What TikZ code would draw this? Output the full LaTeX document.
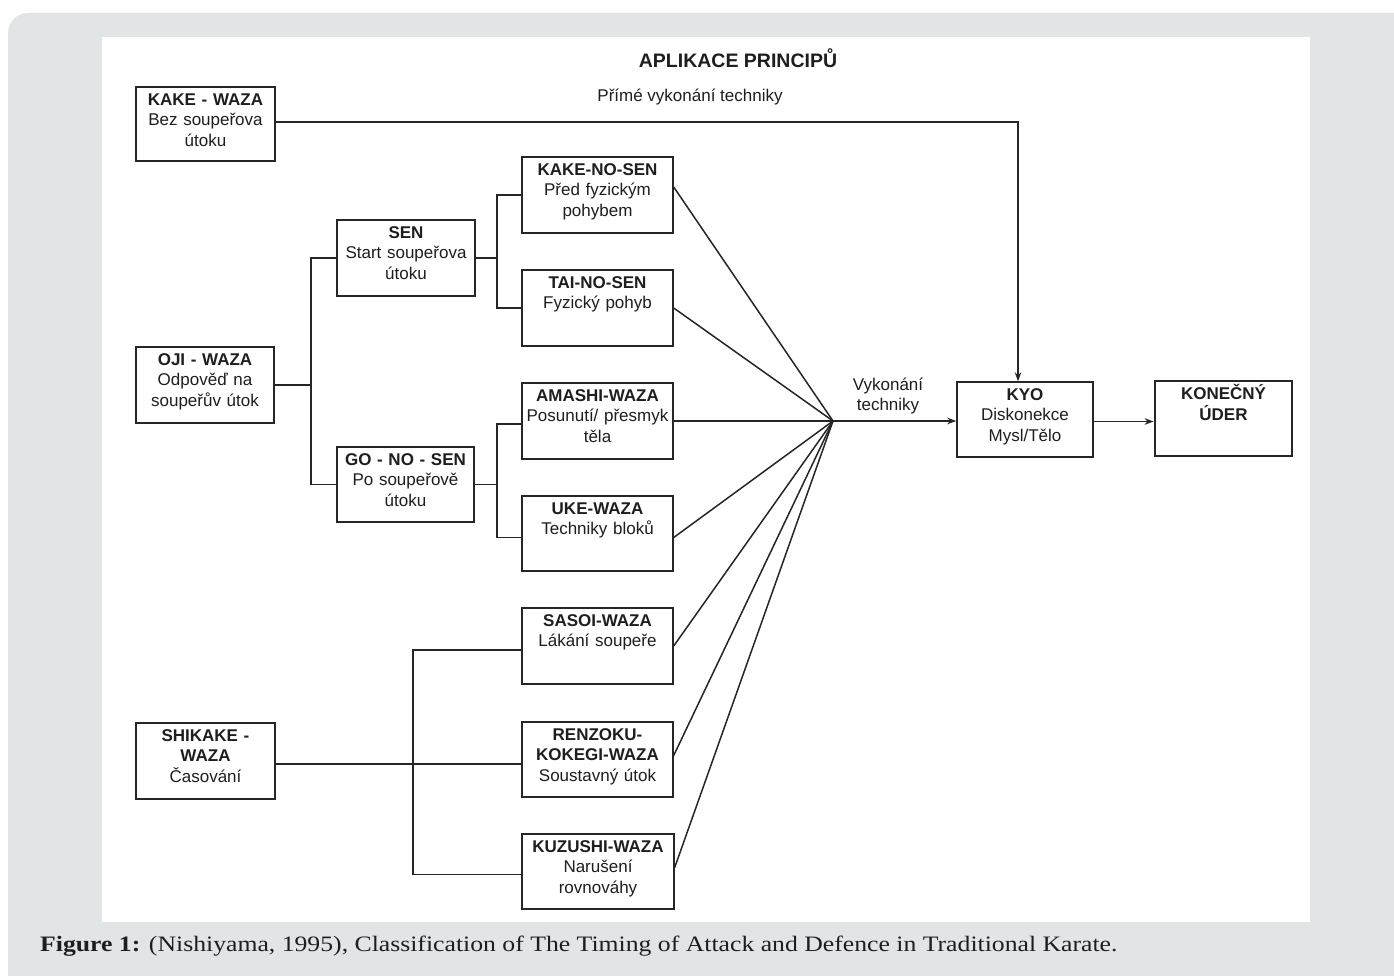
\documentclass[tikz,border=0pt]{standalone}
\usepackage{fontspec}
\usepackage{graphicx}
\setmainfont{Liberation Serif}
\newfontfamily\diafont{Liberation Sans}
\usetikzlibrary{arrows.meta}
\definecolor{bggrey}{HTML}{E1E5E5}
\definecolor{ink}{HTML}{1E1E1E}
\definecolor{wire}{HTML}{262626}
\tikzset{
  boxshape/.style={draw=wire, line width=1.4pt, rectangle, inner sep=0pt},
  txt/.style={inner sep=0pt, align=center, text width=150pt, text=ink,
    font=\diafont\fontsize{17}{20.5}\selectfont, anchor=base},
  wireline/.style={draw=wire, line width=1.5pt},
  arrowline/.style={wireline, -{Stealth[length=9pt,width=6.5pt]}},
}
\newcommand{\mybox}[6]{%
  \node[boxshape, minimum width=#4pt, minimum height=#5pt] (#1) at (#2,#3) {};
  \node[txt] (#1t) at ([yshift=-19pt]#1.north) {#6};
}
\begin{document}
\begin{tikzpicture}[x=1pt,y=-1pt]
\useasboundingbox (0,0) rectangle (1394,976);
\clip (0,0) rectangle (1394,976);
\fill[white] (0,0) rectangle (1394,976);
\fill[bggrey, rounded corners=20pt] (8,13) rectangle (1440,1020);
\fill[white] (102,37) rectangle (1310,922);

% title
\node[inner sep=0pt, text=ink, font=\diafont\bfseries\fontsize{19.5}{23}\selectfont] (title) at (738,58) {APLIKACE PRINCIPŮ};
\node[inner sep=0pt, text=ink, font=\diafont\fontsize{17}{20.5}\selectfont] (prime) at (690,97) {Přímé vykonání techniky};

% boxes
\mybox{kake}{205.5}{124}{139}{74}{\textbf{KAKE - WAZA}\\Bez soupeřova\\útoku}
\mybox{oji}{205}{385}{138}{76}{\textbf{OJI - WAZA}\\Odpověď na\\soupeřův útok}
\mybox{shikake}{205.5}{761}{139}{76}{\textbf{SHIKAKE -}\\\textbf{WAZA}\\Časování}
\mybox{sen}{406}{258}{138}{76}{\textbf{SEN}\\Start soupeřova\\útoku}
\mybox{gons}{405.5}{484.5}{137}{75}{\textbf{GO - NO - SEN}\\Po soupeřově\\útoku}
\mybox{kns}{597.5}{195}{151}{76}{\textbf{KAKE-NO-SEN}\\Před fyzickým\\pohybem}
\mybox{tns}{597.5}{308}{151}{76}{\textbf{TAI-NO-SEN}\\Fyzický pohyb}
\mybox{ama}{597.5}{421}{151}{76}{\textbf{AMASHI-WAZA}\\Posunutí/ přesmyk\\těla}
\mybox{uke}{597.5}{533.5}{151}{75}{\textbf{UKE-WAZA}\\Techniky bloků}
\mybox{sasoi}{597.5}{646}{151}{76}{\textbf{SASOI-WAZA}\\Lákání soupeře}
\mybox{renz}{597.5}{759.5}{151}{75}{\textbf{RENZOKU-}\\\textbf{KOKEGI-WAZA}\\Soustavný útok}
\mybox{kuz}{598}{871.5}{152}{75}{\textbf{KUZUSHI-WAZA}\\Narušení\\rovnováhy}
\mybox{kyo}{1025}{419.5}{136}{75}{\textbf{KYO}\\Diskonekce\\Mysl/Tělo}
\node[boxshape, line width=2.8pt, minimum width=137pt, minimum height=75pt] (kon) at (1223.5,418.5) {};
\node[txt] (kont) at ([yshift=-20pt]kon.north) {\textbf{KONEČNÝ}\\\textbf{ÚDER}};

% junction coordinates
\coordinate (b1) at (311,0);
\coordinate (b2) at (497,0);
\coordinate (b3) at (413,0);
\coordinate (fan) at (833,421);

% direct execution
\draw[arrowline] ([yshift=2pt]kake.east) -| ([xshift=-7pt]kyo.north);

% oji tree
\draw[wireline] (oji.east) -- (oji.east -| b1);
\draw[wireline] (sen.west) -- (sen.west -| b1) -- (gons.west -| b1) -- (gons.west);
\draw[wireline] (sen.east) -- (sen.east -| b2);
\draw[wireline] (kns.west) -- (kns.west -| b2) -- (tns.west -| b2) -- (tns.west);
\draw[wireline] (gons.east) -- (gons.east -| b2);
\draw[wireline] ([yshift=-3pt]ama.west) -- ([yshift=-3pt]ama.west -| b2) -- ([yshift=-4pt]uke.west -| b2) -- ([yshift=-4pt]uke.west);

% shikake tree
\draw[wireline] ([yshift=-3pt]shikake.east) -- ([yshift=-3pt]shikake.east -| renz.west);
\draw[wireline] ([yshift=-4pt]sasoi.west) -- ([yshift=-4pt]sasoi.west -| b3) -- ([yshift=-3pt]kuz.west -| b3) -- ([yshift=-3pt]kuz.west);

% fan
\foreach \n/\s in {kns/8, tns/0, ama/0, uke/-4, sasoi/0, renz/4, kuz/4} {
  \draw[wireline] ([yshift=\s pt]\n.east) -- (fan);
}
\draw[arrowline] (fan) -- (fan -| kyo.west);
\node[inner sep=0pt, align=center, text=ink, font=\diafont\fontsize{17}{20.5}\selectfont] (vyk) at (888,396) {Vykonání\\techniky};
\draw[arrowline] ([yshift=-2pt]kyo.east) -- ([yshift=-2pt]kyo.east -| kon.west);

% caption
\node[anchor=base west, inner sep=0pt, text=ink] (cap) at (40,951.5) {\resizebox{1077pt}{15.5pt}{\textbf{Figure 1:} (Nishiyama, 1995), Classification of The Timing of Attack and Defence in Traditional Karate.}};
\end{tikzpicture}
\end{document}
